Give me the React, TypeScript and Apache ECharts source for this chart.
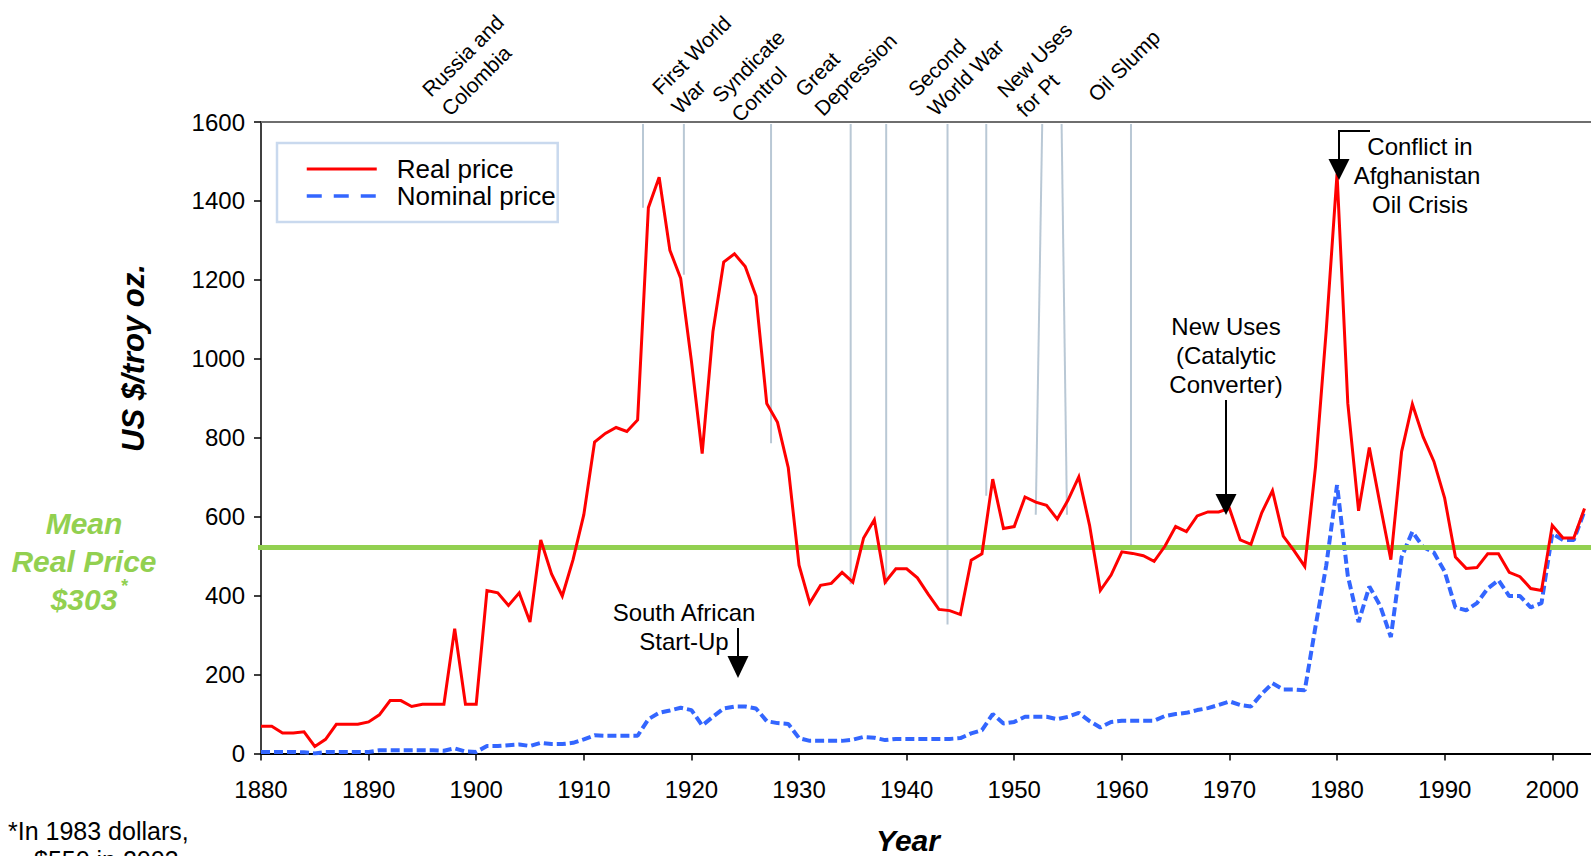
import React, { useEffect, useRef } from 'react';
import * as echarts from 'echarts';

const FIRST_YEAR = 1880;

// Real price (1880-2003), US $/troy oz.
const realPrice = [
  69, 69, 52, 52, 55, 18, 36, 74, 74, 74,
  80, 98, 134, 134, 119, 125, 125, 125, 316, 125,
  125, 413, 407, 375, 407, 333, 541, 455, 399, 491,
  605, 789, 811, 826, 816, 845, 1383, 1460, 1275, 1204,
  994, 760, 1069, 1245, 1266, 1234, 1159, 887, 839, 724,
  477, 381, 426, 431, 459, 434, 546, 592, 434, 468,
  468, 445, 404, 365, 362, 352, 490, 506, 695, 570,
  575, 650, 637, 629, 594, 642, 701, 578, 413, 452,
  511, 507, 501, 487, 525, 575, 562, 602, 612, 612,
  621, 541, 530, 610, 666, 551, 514, 474, 727, 1074,
  1469, 887, 615, 775, 631, 491, 765, 885, 802, 740,
  647, 498, 469, 471, 506, 506, 459, 448, 418, 413,
  578, 546, 546, 621,
];

// Nominal price (1880-2003)
const nominalPrice = [
  4, 4, 4, 4, 3, 0, 4, 4, 4, 4,
  4, 8, 8, 8, 8, 8, 8, 7, 13, 5,
  4, 19, 19, 21, 23, 19, 27, 24, 24, 27,
  36, 46, 45, 45, 45, 45, 87, 103, 109, 116,
  110, 71, 93, 114, 119, 119, 114, 82, 77, 75,
  39, 32, 32, 32, 32, 35, 42, 40, 34, 37,
  37, 37, 37, 37, 37, 39, 51, 59, 100, 76,
  80, 93, 93, 93, 87, 93, 103, 82, 66, 80,
  83, 83, 83, 83, 95, 100, 103, 110, 115, 123,
  132, 123, 119, 151, 178, 162, 162, 160, 322, 477,
  680, 450, 333, 423, 375, 295, 498, 562, 523, 509,
  461, 370, 363, 381, 418, 439, 399, 399, 370, 381,
  557, 541, 541, 615,
];

const years = realPrice.map((_, i) => FIRST_YEAR + i);

const meanRealPrice = 522;

// Event marker lines (grey verticals)
const eventTopYear = [1915.5, 1919.3, 1927.4, 1934.8, 1938.1, 1943.8, 1947.4, 1952.6, 1954.4, 1960.85];
const eventBottomYear = [1915.5, 1919.3, 1927.4, 1934.8, 1938.1, 1943.8, 1947.4, 1952.0, 1954.9, 1960.85];
const eventBottomValue = [1383, 1213, 786, 429, 429, 327, 653, 605, 605, 525];
const eventTopValue = 1595;

const eventLabelText = [
  ['Russia and', 'Colombia'],
  ['First World', 'War'],
  ['Syndicate', 'Control'],
  ['Great', 'Depression'],
  ['Second', 'World War'],
  ['New Uses', 'for Pt'],
  ['Oil Slump'],
];

const FONT = '"Liberation Sans", Arial, Helvetica, sans-serif';

// layout (pixel) of rotated event labels: baseline start of first line
const eventLabelPos = [
  [430, 97], [660, 95], [720, 103], [803, 97], [916, 97], [1005, 98], [1096, 102],
];

function txt(text: string, x: number, y: number, extra: any = {}) {
  const { align = 'center', size = 24, weight = 'normal', style = 'normal', fill = '#000', rotation = 0 } = extra;
  return {
    type: 'text',
    x,
    y,
    rotation,
    z: 100,
    silent: true,
    style: {
      text,
      fill,
      fontSize: size,
      fontFamily: FONT,
      fontWeight: weight,
      fontStyle: style,
      align,
      textAlign: align,
      verticalAlign: 'middle',
      textVerticalAlign: 'middle',
    },
  };
}

function arrowHead(x: number, yTop: number, yTip: number, half: number) {
  return {
    type: 'polygon',
    z: 100,
    silent: true,
    shape: { points: [[x - half, yTop], [x + half, yTop], [x, yTip]] },
    style: { fill: '#000' },
  };
}

function buildGraphic() {
  const g: any[] = [];
  // y axis title
  g.push(txt('US $/troy oz.', 133, 358, { size: 31, weight: 'bold', style: 'italic', rotation: Math.PI / 2 }));
  // x axis title
  g.push(txt('Year', 908, 840, { size: 30, weight: 'bold', style: 'italic' }));
  // mean label
  const green = '#92d050';
  g.push(txt('Mean', 84, 523, { size: 30, weight: 'bold', style: 'italic', fill: green }));
  g.push(txt('Real Price', 84, 561, { size: 30, weight: 'bold', style: 'italic', fill: green }));
  g.push(txt('$303', 84, 599, { size: 30, weight: 'bold', style: 'italic', fill: green }));
  g.push(txt('*', 124, 586, { size: 18, weight: 'bold', style: 'italic', fill: green }));
  // footnote
  g.push(txt('*In 1983 dollars,', 8, 831, { size: 25, align: 'left' }));
  g.push(txt('$550 in 2003', 34, 860, { size: 25, align: 'left' }));

  // rotated event labels
  eventLabelText.forEach((lines, i) => {
    const [bx, by] = eventLabelPos[i];
    g.push({
      type: 'group',
      x: bx - 4.2,
      y: by - 4.2,
      rotation: Math.PI / 4,
      z: 100,
      silent: true,
      children: lines.map((t, j) => ({
        type: 'text',
        x: 0,
        y: j * 27,
        style: {
          text: t,
          fill: '#000',
          fontSize: 21,
          fontFamily: FONT,
          align: 'left',
          textAlign: 'left',
          verticalAlign: 'middle',
          textVerticalAlign: 'middle',
        },
      })),
    });
  });

  // South African Start-Up
  g.push(txt('South African', 684, 612));
  g.push(txt('Start-Up', 684, 641));
  g.push({ type: 'line', z: 100, silent: true, shape: { x1: 738, y1: 628, x2: 738, y2: 658 }, style: { stroke: '#000', lineWidth: 2 } });
  g.push(arrowHead(738, 656, 678, 10.5));

  // New Uses (Catalytic Converter)
  g.push(txt('New Uses', 1226, 326));
  g.push(txt('(Catalytic', 1226, 355));
  g.push(txt('Converter)', 1226, 384));
  g.push({ type: 'line', z: 100, silent: true, shape: { x1: 1226, y1: 400, x2: 1226, y2: 496 }, style: { stroke: '#000', lineWidth: 2 } });
  g.push(arrowHead(1226, 494, 515, 10.5));

  // Conflict in Afghanistan / Oil Crisis
  g.push(txt('Conflict in', 1420, 146));
  g.push(txt('Afghanistan', 1417, 175));
  g.push(txt('Oil Crisis', 1420, 204));
  g.push({
    type: 'polyline', z: 100, silent: true,
    shape: { points: [[1370, 131], [1339, 131], [1339, 161]] },
    style: { stroke: '#000', lineWidth: 2, fill: null },
  });
  g.push(arrowHead(1339, 159, 180, 10.5));
  return g;
}

export default function App() {
  const ref = useRef<HTMLDivElement>(null);

  useEffect(() => {
    if (!ref.current) return;
    const chart = echarts.init(ref.current, undefined, { renderer: 'svg' });

    const eventSeries = eventTopYear.map((ty, i) => ({
      type: 'line',
      name: 'event' + i,
      data: [[ty, eventTopValue], [eventBottomYear[i], eventBottomValue[i]]],
      symbol: 'none',
      silent: true,
      z: 1,
      lineStyle: { color: '#b9c8d5', width: 2 },
      emphasis: { disabled: true },
    }));

    const option: any = {
      animation: false,
      backgroundColor: '#ffffff',
      textStyle: { fontFamily: FONT },
      grid: { left: 261, right: 0, top: 122, bottom: 102.5, containLabel: false },
      xAxis: [
        {
          type: 'value',
          position: 'bottom',
          min: 1880,
          max: 2003.6,
          interval: 10,
          axisLine: { show: true, onZero: false, lineStyle: { color: '#000', width: 2 } },
          axisTick: { show: true, length: 7, lineStyle: { color: '#000', width: 1.5 } },
          axisLabel: {
            color: '#000',
            fontSize: 24,
            fontFamily: FONT,
            margin: 24,
            showMaxLabel: false,
            formatter: (v: number) => (Math.abs(v % 10) < 1e-6 ? String(v) : ''),
          },
          splitLine: { show: false },
        },
        {
          type: 'value',
          position: 'top',
          min: 1880,
          max: 2003.6,
          interval: 10,
          axisLine: { show: true, onZero: false, lineStyle: { color: '#6e6e6e', width: 2 } },
          axisTick: { show: false },
          axisLabel: { show: false },
          splitLine: { show: false },
        },
      ],
      yAxis: {
        type: 'value',
        min: 0,
        max: 1600,
        interval: 200,
        axisLine: { show: true, onZero: false, lineStyle: { color: '#000', width: 1.5 } },
        axisTick: { show: true, length: 7, lineStyle: { color: '#000', width: 1.5 } },
        axisLabel: {
          color: '#000',
          fontSize: 24,
          fontFamily: FONT,
          margin: 16,
          formatter: (v: number) => String(v),
        },
        splitLine: { show: false },
      },
      legend: {
        orient: 'vertical',
        left: 277,
        top: 143,
        itemWidth: 70,
        itemHeight: 14,
        itemGap: 1,
        padding: [13, 2, 13, 28],
        borderColor: '#c9d9ee',
        borderWidth: 2.5,
        backgroundColor: '#ffffff',
        selectedMode: false,
        itemStyle: { opacity: 0 },
        lineStyle: { width: 3 },
        textStyle: { color: '#000', fontSize: 26, fontFamily: FONT, padding: [0, 0, 0, 15] },
        data: [
          { name: 'Real price', lineStyle: { width: 3, color: '#ff0000' } },
          { name: 'Nominal price', lineStyle: { width: 3.5, color: '#3366ff', type: [15, 12] } },
        ],
      },
      series: [
        ...eventSeries,
        {
          type: 'line',
          name: 'Nominal price',
          data: years.map((y, i) => [y, nominalPrice[i]]),
          symbol: 'none',
          color: '#3366ff',
          z: 2,
          lineStyle: { color: '#3366ff', width: 4, type: [9, 4] },
        },
        {
          type: 'line',
          name: 'mean',
          data: [[1879, meanRealPrice], [2003.6, meanRealPrice]],
          symbol: 'none',
          clip: false,
          silent: true,
          z: 3,
          lineStyle: { color: '#92d050', width: 5 },
        },
        {
          type: 'line',
          name: 'Real price',
          data: years.map((y, i) => [y, realPrice[i]]),
          symbol: 'none',
          color: '#ff0000',
          z: 4,
          lineStyle: { color: '#ff0000', width: 3, join: 'miter' },
        },
      ],
      graphic: buildGraphic(),
    };

    chart.setOption(option);
    return () => chart.dispose();
  }, []);

  return (
    <div
      ref={ref}
      style={{ position: 'fixed', left: 0, top: 0, width: 1591, height: 856, background: '#fff' }}
    />
  );
}
